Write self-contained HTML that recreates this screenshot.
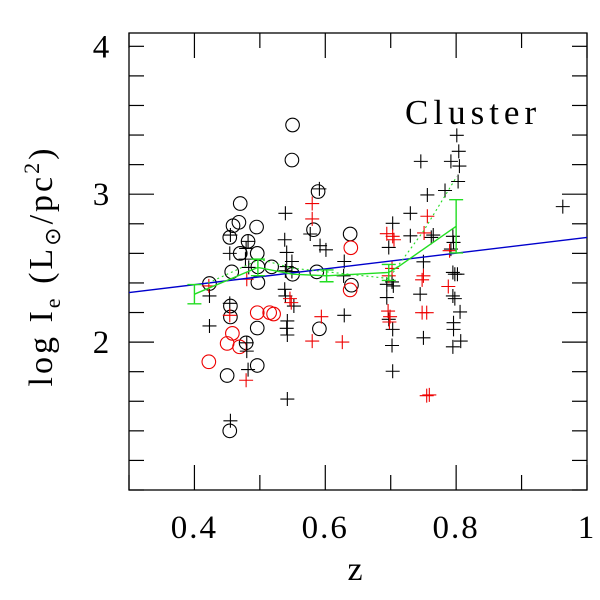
<!DOCTYPE html>
<html><head><meta charset="utf-8"><style>
html,body{margin:0;padding:0;background:#fff;}
svg{display:block;}
text{font-family:"Liberation Serif",serif;fill:#000;}
</style></head><body>
<svg id="chart" width="600" height="600" viewBox="0 0 600 600" xmlns="http://www.w3.org/2000/svg">
<rect x="129" y="33" width="458" height="457" fill="none" stroke="#000" stroke-width="1.3"/>
<g id="ticks"></g>
<g id="marks"></g>
<text x="405" y="124" font-size="35" letter-spacing="5">Cluster</text>
<text x="355" y="580" font-size="34" text-anchor="middle">z</text>
<text transform="translate(52,266) rotate(-90)" font-size="34" letter-spacing="3" text-anchor="middle">log I<tspan font-size="22" dy="8">e</tspan><tspan dy="-8"> (L</tspan><tspan font-size="22" dy="8">⊙</tspan><tspan dy="-8">/pc</tspan><tspan font-size="22" dy="-13">2</tspan><tspan dy="13">)</tspan></text>
</svg>
<script>
const xTicksMajor=[0.4,0.6,0.8,1.0];
const xTickLabels=["0.4","0.6","0.8","1"];
const yTicksMajor=[2,3,4];
const yTickLabels=["2","3","4"];
const blackCircles=[[0.55,3.468],[0.549,3.231],[0.589,3.018],[0.470,2.937],[0.459,2.787],[0.468,2.810],[0.495,2.778],[0.454,2.708],[0.482,2.681],[0.582,2.760],[0.638,2.731],[0.496,2.600],[0.470,2.600],[0.457,2.475],[0.497,2.509],[0.518,2.509],[0.550,2.459],[0.587,2.475],[0.497,2.403],[0.423,2.396],[0.640,2.385],[0.455,2.244],[0.455,2.170],[0.591,2.090],[0.496,2.095],[0.479,1.995],[0.496,1.842],[0.450,1.774],[0.454,1.400]];
const redCircles=[[0.639,2.638],[0.638,2.353],[0.496,2.199],[0.515,2.199],[0.521,2.190],[0.458,2.059],[0.450,1.991],[0.469,1.968],[0.422,1.867]];
const blackCrosses=[[0.801,3.398],[0.804,3.290],[0.746,3.222],[0.792,3.222],[0.805,3.190],[0.803,3.086],[0.591,3.036],[0.783,3.025],[0.756,2.995],[0.539,2.871],[0.730,2.871],[0.703,2.803],[0.963,2.916],[0.577,2.731],[0.592,2.652],[0.601,2.624],[0.538,2.692],[0.455,2.724],[0.482,2.681],[0.454,2.600],[0.479,2.633],[0.541,2.606],[0.549,2.545],[0.541,2.511],[0.539,2.482],[0.549,2.477],[0.629,2.545],[0.628,2.448],[0.730,2.719],[0.765,2.724],[0.762,2.708],[0.795,2.715],[0.796,2.674],[0.792,2.629],[0.697,2.640],[0.702,2.407],[0.694,2.391],[0.704,2.380],[0.750,2.543],[0.795,2.471],[0.798,2.459],[0.802,2.459],[0.423,2.312],[0.483,2.505],[0.478,2.561],[0.745,2.324],[0.795,2.312],[0.798,2.294],[0.538,2.357],[0.539,2.312],[0.552,2.244],[0.454,2.262],[0.423,2.109],[0.629,2.181],[0.694,2.301],[0.703,2.086],[0.697,2.154],[0.806,2.204],[0.796,2.131],[0.796,2.086],[0.807,2.007],[0.795,1.968],[0.750,2.029],[0.542,2.143],[0.541,2.093],[0.542,2.048],[0.702,1.977],[0.480,1.939],[0.482,1.814],[0.703,1.803],[0.542,1.615],[0.455,1.468],[0.480,1.995]];
const redCrosses=[[0.580,2.937],[0.580,2.833],[0.756,2.851],[0.751,2.738],[0.694,2.733],[0.705,2.692],[0.703,2.715],[0.480,2.425],[0.422,2.380],[0.750,2.448],[0.748,2.421],[0.788,2.376],[0.790,2.618],[0.546,2.294],[0.548,2.267],[0.454,2.181],[0.594,2.172],[0.696,2.210],[0.699,2.172],[0.698,2.136],[0.748,2.199],[0.755,2.199],[0.580,2.007],[0.626,2.000],[0.479,1.742],[0.755,1.638],[0.759,1.643],[0.702,2.498],[0.697,2.448]];
const binZ=[0.4,0.497,0.602,0.697,0.8];
const binMean=[2.324,2.505,2.448,2.471,2.783];
const binErr=[0.065,0.056,0.04,0.054,0.18];
const solidLineZ=[0.4,0.497,0.55,0.602,0.697,0.712,0.8];
const solidLineY=[2.324,2.505,2.459,2.448,2.471,2.511,2.783];
const dottedLineZ=[0.421,0.5,0.55,0.697,0.75,0.801];
const dottedLineY=[2.40,2.56,2.50,2.43,2.75,3.12];
const fitZ=[0.3,1.0];
const fitY=[2.335,2.708];

const X0=129,X1=587,Y0=490,Y1=33,xmin=0.3,xmax=1.0,ymin=1.0,ymax=4.09;
const sx=v=>X0+(v-xmin)/(xmax-xmin)*(X1-X0);
const sy=v=>Y0-(v-ymin)/(ymax-ymin)*(Y0-Y1);
const NS="http://www.w3.org/2000/svg";
function mk(tag,attrs,parent){const e=document.createElementNS(NS,tag);for(const k in attrs)e.setAttribute(k,attrs[k]);parent.appendChild(e);return e;}
const T=document.getElementById('ticks'),M=document.getElementById('marks');
for(let i=0;i<=7;i++){const v=0.3+i*0.1;const x=sx(v);const major=xTicksMajor.some(t=>Math.abs(t-v)<1e-6);const L=major?25:15;
 const a=mk('line',{x1:x,x2:x,y1:Y0,y2:Y0-L,stroke:'#000','stroke-width':1.2},T);
 
 
 const b=mk('line',{x1:x,x2:x,y1:Y1,y2:Y1+L,stroke:'#000','stroke-width':1.2},T);
 
 }
xTicksMajor.forEach((v,i)=>{const t=mk('text',{x:sx(v),y:538,'font-size':33,'letter-spacing':2,'text-anchor':'middle'},T);t.textContent=xTickLabels[i];
 
 });
for(let i=0;i<=15;i++){const v=1.0+i*0.2;if(v>4.09)break;const y=sy(v);const major=yTicksMajor.some(t=>Math.abs(t-v)<1e-6)&&v<3.5;const L=major?25:15;
 const a=mk('line',{x1:X0,x2:X0+L,y1:y,y2:y,stroke:'#000','stroke-width':1.2},T);
 
 
 const b=mk('line',{x1:X1,x2:X1-L,y1:y,y2:y,stroke:'#000','stroke-width':1.2},T);
 
 }
yTicksMajor.forEach((v,i)=>{const t=mk('text',{x:101,y:sy(v)+11,'font-size':33,'text-anchor':'middle'},T);t.textContent=yTickLabels[i];
 
 });
function circ(p,col){const c=mk('circle',{cx:sx(p[0]),cy:sy(p[1]),r:6.8,fill:'none',stroke:col,'stroke-width':1.1},M);
 
 }
function cross(p,col){const x=sx(p[0]),y=sy(p[1]);const c=mk('path',{d:`M${x-7},${y}H${x+7}M${x},${y-7}V${y+7}`,stroke:col,'stroke-width':1.1,fill:'none'},M);
 
 }
blackCircles.forEach(p=>circ(p,'#000'));
redCircles.forEach(p=>circ(p,'#e00'));
blackCrosses.forEach(p=>cross(p,'#000'));
redCrosses.forEach(p=>cross(p,'#e00'));
const f=mk('line',{x1:sx(fitZ[0]),y1:sy(fitY[0]),x2:sx(fitZ[1]),y2:sy(fitY[1]),stroke:'#00c','stroke-width':1.4},M);


const dl=mk('polyline',{points:dottedLineZ.map((z,i)=>sx(z)+','+sy(dottedLineY[i])).join(' '),fill:'none',stroke:'#2d2','stroke-width':1.1,'stroke-dasharray':'2,3'},M);


const sl=mk('polyline',{points:solidLineZ.map((z,i)=>sx(z)+','+sy(solidLineY[i])).join(' '),fill:'none',stroke:'#2d2','stroke-width':1.4},M);


binZ.forEach((z,i)=>{const x=sx(z),yt=sy(binMean[i]+binErr[i]),yb=sy(binMean[i]-binErr[i]);
 const e=mk('path',{d:`M${x},${yt}V${yb}M${x-7},${yt}H${x+7}M${x-7},${yb}H${x+7}`,stroke:'#2d2','stroke-width':1.4,fill:'none'},M);
 
 });
</script>
</body></html>
